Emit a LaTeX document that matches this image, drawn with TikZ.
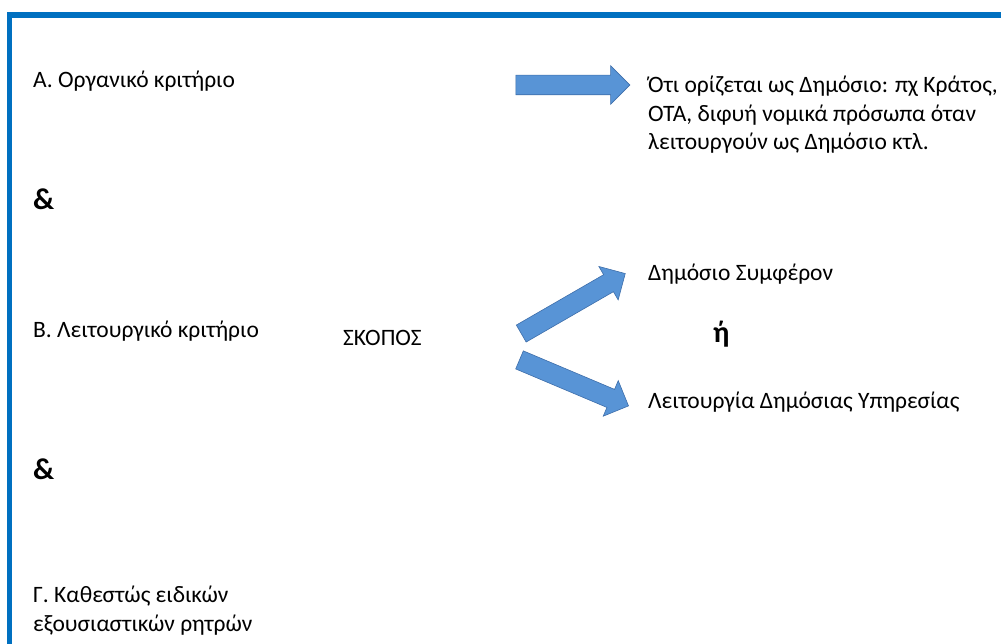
\documentclass[tikz,border=0pt]{standalone}
\usepackage{fontspec}
\setmainfont{Carlito}
\usetikzlibrary{shapes.arrows,calc}
\definecolor{frameblue}{RGB}{0,112,192}
\definecolor{arrowblue}{RGB}{88,148,214}
\definecolor{arrowedge}{RGB}{62,110,170}

\begin{document}
\begin{tikzpicture}[x=1pt,y=-1pt,
    txt/.style={anchor=base west,inner sep=0pt,font=\fontsize{23.5}{28.5}\selectfont},
    bigsym/.style={anchor=base west,inner sep=0pt,font=\fontsize{30}{32}\selectfont\bfseries},
    fatarrow/.style={single arrow,fill=arrowblue,draw=arrowedge,line width=0.6pt,
      inner xsep=0pt,inner ysep=9.5pt,minimum width=38pt,single arrow head extend=9.5pt}]
    \useasboundingbox (0,0) rectangle (1001,644);
    % frame
    \fill[frameblue] (7,12) rectangle (1001,18);
    \fill[frameblue] (7,12) rectangle (12,644);
    % left column
    \node[txt] (orgc) at (33,88) {Α. Οργανικό κριτήριο};
    \node[bigsym] (and1) at (33,210) {\&};
    \node[txt] (leitc) at (33,337) {Β. Λειτουργικό κριτήριο};
    \node[bigsym] (and2) at (33,479) {\&};
    \node[txt,align=left] (rhtres) at (33,631) {Γ. Καθεστώς ειδικών\\εξουσιαστικών ρητρών};
    \node[txt] (skopos) at (343,345) {ΣΚΟΠΟΣ};
    % right column
    \node[txt,align=left] (dhmosio) at (648,150) {Ότι ορίζεται ως Δημόσιο: πχ Κράτος,\\ΟΤΑ, διφυή νομικά πρόσωπα όταν\\λειτουργούν ως Δημόσιο κτλ.};
    \node[txt] (symf) at (648,280) {Δημόσιο Συμφέρον};
    \node[bigsym] (h) at (713,342) {ή};
    \node[txt] (yphr) at (648,408) {Λειτουργία Δημόσιας Υπηρεσίας};
    % arrows
    \coordinate (a1) at (511,85);
    \coordinate (b1) at (625,85);
    \coordinate (a2) at (517,336);
    \coordinate (b2) at (621,276);
    \coordinate (a3) at (515,358);
    \coordinate (b3) at (624,404);
    \foreach \s/\e in {a1/b1,a2/b2,a3/b3}
      \path let \p1=($(\e)-(\s)$), \n1={atan2(\y1,\x1)}, \n2={veclen(\x1,\y1)} in
        node[fatarrow,minimum height=\n2,rotate=\n1] at ($(\s)!0.5!(\e)$) {};
  \end{tikzpicture}
\end{document}
